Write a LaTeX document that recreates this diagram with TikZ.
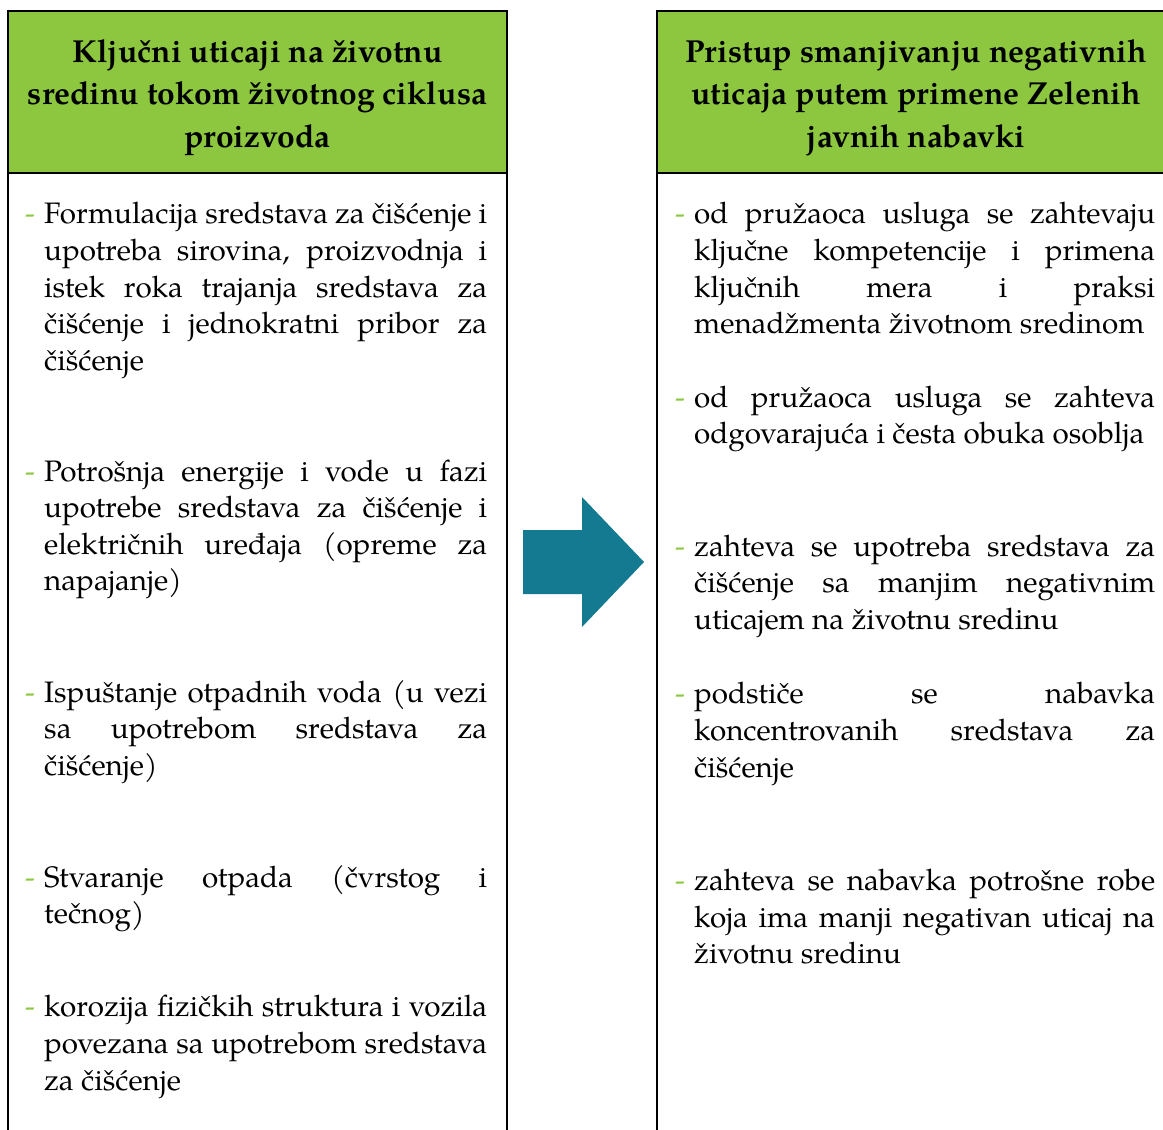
\documentclass[tikz,border=0pt]{standalone}
\usepackage{fontspec}
\setmainfont{texgyrepagella}[Extension=.otf, UprightFont=*-regular, BoldFont=*-bold, ItalicFont=*-italic, BoldItalicFont=*-bolditalic]
\definecolor{hdrgreen}{RGB}{141,198,63}
\definecolor{arrowteal}{RGB}{19,122,146}
\newcommand\bodyfont{\fontsize{29.6}{36.7}\selectfont}
\newcommand\headfont{\fontsize{31.8}{42.5}\selectfont\bfseries}
\newcommand\JL[2]{\makebox[#1][s]{#2}}
\begin{document}
\begin{tikzpicture}[x=1pt,y=-1pt,
  frame/.style={draw=black, line width=2.6pt},
  hdr/.style={frame, fill=hdrgreen},
  htext/.style={anchor=base, inner sep=0pt, font=\headfont},
  bline/.style={anchor=base west, inner sep=0pt, font=\bodyfont},
  bullet/.style={anchor=base west, inner sep=0pt, font=\bodyfont, text=hdrgreen},
  bigarrow/.style={fill=arrowteal}]
\useasboundingbox (0,0) rectangle (1163,1130);
\clip (0,0) rectangle (1163,1130);
\fill[white] (0,0) rectangle (1163,1130);

% left column frame
\draw[hdr] (8,11) rectangle (507,173);
\draw[frame] (8,173) -- (8,1145);
\draw[frame] (507,173) -- (507,1145);
% right column frame
\draw[hdr] (657,11) rectangle (1180,173);
\draw[frame] (657,173) -- (657,1145);

% headers
\node[htext] (lh1) at (257.5,62) {Ključni uticaji na životnu};
\node[htext] (lh2) at (257.5,104) {sredinu tokom životnog ciklusa};
\node[htext] (lh3) at (257.5,147) {proizvoda};
\node[htext] (rh1) at (916,62) {Pristup smanjivanju negativnih};
\node[htext] (rh2) at (916,104) {uticaja putem primene Zelenih};
\node[htext] (rh3) at (916,147) {javnih nabavki};

% arrow
\fill[bigarrow] (523,530) -- (582,530) -- (582,497) -- (644,562) -- (582,627) -- (582,594) -- (523,594) -- cycle;

% left items
\node[bullet] (ld1) at (25,223) {-};
\node[bline] (l1a) at (44,223) {\JL{443pt}{Formulacija sredstava za čišćenje i}};
\node[bline] (l1b) at (44,260) {\JL{443pt}{upotreba sirovina, proizvodnja i}};
\node[bline] (l1c) at (44,297) {\JL{443pt}{istek roka trajanja sredstava za}};
\node[bline] (l1d) at (44,333) {\JL{443pt}{čišćenje i jednokratni pribor za}};
\node[bline] (l1e) at (44,370) {čišćenje};

\node[bullet] (ld2) at (25,481) {-};
\node[bline] (l2a) at (44,481) {\JL{443pt}{Potrošnja energije i vode u fazi}};
\node[bline] (l2b) at (44,517) {\JL{443pt}{upotrebe sredstava za čišćenje i}};
\node[bline] (l2c) at (44,554) {\JL{443pt}{električnih uređaja (opreme za}};
\node[bline] (l2d) at (44,590) {napajanje)};

\node[bullet] (ld3) at (25,702) {-};
\node[bline] (l3a) at (44,702) {\JL{443pt}{Ispuštanje otpadnih voda (u vezi}};
\node[bline] (l3b) at (44,738) {\JL{443pt}{sa upotrebom sredstava za}};
\node[bline] (l3c) at (44,775) {čišćenje)};

\node[bullet] (ld4) at (25,887) {-};
\node[bline] (l4a) at (44,887) {\JL{443pt}{Stvaranje otpada (čvrstog i}};
\node[bline] (l4b) at (44,923) {tečnog)};

\node[bullet] (ld5) at (25,1016) {-};
\node[bline] (l5a) at (44,1016) {\JL{443pt}{korozija fizičkih struktura i vozila}};
\node[bline] (l5b) at (44,1053) {\JL{443pt}{povezana sa upotrebom sredstava}};
\node[bline] (l5c) at (44,1090) {za čišćenje};

% right items
\node[bullet] (rd1) at (675,223) {-};
\node[bline] (r1a) at (694,223) {\JL{461pt}{od pružaoca usluga se zahtevaju}};
\node[bline] (r1b) at (694,260) {\JL{461pt}{ključne kompetencije i primena}};
\node[bline] (r1c) at (694,297) {\JL{461pt}{ključnih mera i praksi}};
\node[bline] (r1d) at (694,333) {menadžmenta životnom sredinom};

\node[bullet] (rd2) at (675,407) {-};
\node[bline] (r2a) at (694,407) {\JL{461pt}{od pružaoca usluga se zahteva}};
\node[bline] (r2b) at (694,443) {odgovarajuća i česta obuka osoblja};

\node[bullet] (rd3) at (675,556) {-};
\node[bline] (r3a) at (694,556) {\JL{461pt}{zahteva se upotreba sredstava za}};
\node[bline] (r3b) at (694,592) {\JL{461pt}{čišćenje sa manjim negativnim}};
\node[bline] (r3c) at (694,629) {uticajem na životnu sredinu};

\node[bullet] (rd4) at (675,703) {-};
\node[bline] (r4a) at (694,703) {\JL{461pt}{podstiče se nabavka}};
\node[bline] (r4b) at (694,740) {\JL{461pt}{koncentrovanih sredstava za}};
\node[bline] (r4c) at (694,777) {čišćenje};

\node[bullet] (rd5) at (675,890) {-};
\node[bline] (r5a) at (694,890) {\JL{461pt}{zahteva se nabavka potrošne robe}};
\node[bline] (r5b) at (694,927) {\JL{461pt}{koja ima manji negativan uticaj na}};
\node[bline] (r5c) at (694,963) {životnu sredinu};
\end{tikzpicture}
\end{document}
